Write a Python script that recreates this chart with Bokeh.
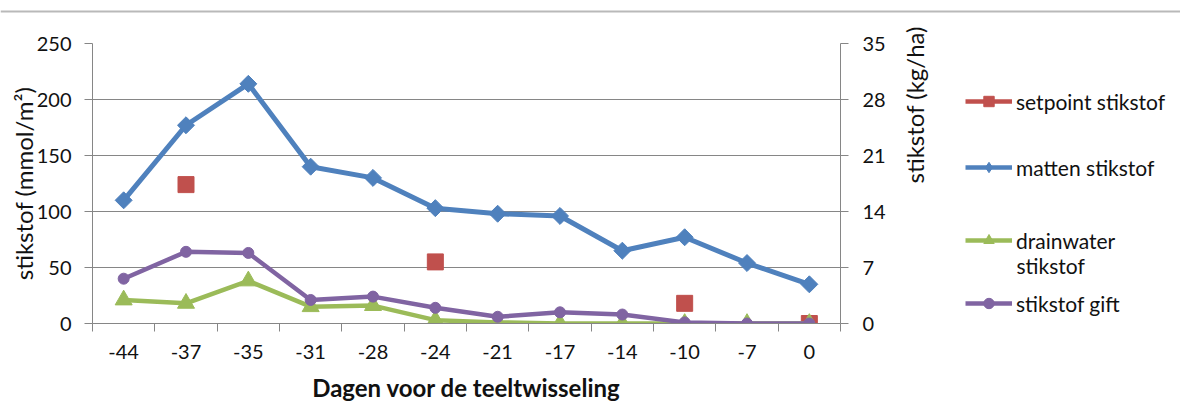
import numpy as np
from bokeh.plotting import figure
from bokeh.models import (Range1d, LinearAxis, FixedTicker, Legend, LegendItem, Label,
                          ColumnDataSource, Span)
from bokeh.layouts import column, row
from bokeh.embed import file_html
from bokeh.resources import INLINE

nan = float("nan")

# ---- data ----
days = ["-44", "-37", "-35", "-31", "-28", "-24", "-21", "-17", "-14", "-10", "-7", "0"]
setpoint_stikstof = [nan, 124, nan, nan, nan, 55, nan, nan, nan, 18, nan, 0]
matten_stikstof = [110, 177, 214, 140, 130, 103, 98, 96, 65, 77, 54, 35]
drainwater_stikstof = [21, 18, 38, 15, 16, 3, 1, 0, 0, 0, 0, 0]
stikstof_gift = [40, 64, 63, 21, 24, 14, 6, 10, 8, 1, 0, 0]
left_ticks = [0, 50, 100, 150, 200, 250]
right_ticks = [0, 7, 14, 21, 28, 35]

FONT = "Lato"
GRAY = "#868686"
TXT = "#111111"
RED = "#C0504D"
BLUE = "#4F81BD"
GREEN = "#9BBB59"
PURPLE = "#8064A2"

xpos = [i + 0.5 for i in range(len(days))]

src = ColumnDataSource(dict(
    x=np.array(xpos, dtype=float),
    setpoint=np.array(setpoint_stikstof, dtype=float),
    matten=np.array(matten_stikstof, dtype=float),
    drain=np.array(drainwater_stikstof, dtype=float),
    gift=np.array(stikstof_gift, dtype=float),
))

H = 390  # height of the chart row

# ---- thin rule across the top ----
p_top = figure(width=1180, height=16, output_backend="svg", toolbar_location=None,
               x_range=Range1d(0, 1), y_range=Range1d(0, 16),
               min_border_left=0, min_border_right=0, min_border_top=0, min_border_bottom=0)
p_top.axis.visible = False
p_top.grid.visible = False
p_top.outline_line_color = None
p_top.add_layout(Span(location=5, dimension="width", line_color="#b9b9b9", line_width=2))

# ---- main chart ----
p = figure(width=950, height=H, output_backend="svg", toolbar_location=None,
           x_range=Range1d(0, len(days)), y_range=Range1d(0, 250),
           min_border_left=92, min_border_right=110, min_border_top=27,
           min_border_bottom=83)
p.outline_line_color = None
p.background_fill_color = "white"
p.border_fill_color = "white"

# x axis: labels at category centres, tick marks at category boundaries
xa = p.xaxis[0]
xa.ticker = FixedTicker(ticks=xpos, minor_ticks=list(range(len(days) + 1)))
xa.major_label_overrides = {x: d for x, d in zip(xpos, days)}
xa.major_tick_out = 0
xa.major_tick_in = 0
xa.minor_tick_out = 8
xa.minor_tick_in = 0
xa.minor_tick_line_color = GRAY
xa.axis_line_color = GRAY
xa.major_label_text_font = FONT
xa.major_label_text_font_size = "20px"
xa.major_label_text_color = TXT
xa.major_label_standoff = 13
xa.axis_label = "Dagen voor de teeltwisseling"
xa.axis_label_text_font = FONT
xa.axis_label_text_font_size = "24px"
xa.axis_label_text_font_style = "bold"
xa.axis_label_text_color = TXT
xa.axis_label_standoff = 11
p.xgrid.visible = False

# left axis
ya = p.yaxis[0]
ya.ticker = FixedTicker(ticks=left_ticks)
ya.major_tick_out = 8
ya.major_tick_in = 0
ya.minor_tick_out = 0
ya.minor_tick_in = 0
ya.major_tick_line_color = GRAY
ya.axis_line_color = GRAY
ya.major_label_text_font = FONT
ya.major_label_text_font_size = "20px"
ya.major_label_text_color = TXT
ya.major_label_standoff = 13
ya.axis_label = "stikstof (mmol/m²)"
ya.axis_label_text_font = FONT
ya.axis_label_text_font_size = "24px"
ya.axis_label_text_font_style = "normal"
ya.axis_label_text_color = TXT
ya.axis_label_standoff = -4
p.ygrid.ticker = FixedTicker(ticks=left_ticks)
p.ygrid.grid_line_color = GRAY

# right axis
p.extra_y_ranges = {"kg": Range1d(0, 35)}
ra = LinearAxis(y_range_name="kg", ticker=FixedTicker(ticks=right_ticks),
                axis_label="stikstof (kg/ha)")
ra.major_tick_out = 8
ra.major_tick_in = 0
ra.minor_tick_out = 0
ra.minor_tick_in = 0
ra.major_tick_line_color = GRAY
ra.axis_line_color = GRAY
ra.major_label_text_font = FONT
ra.major_label_text_font_size = "20px"
ra.major_label_text_color = TXT
ra.major_label_standoff = 14
ra.axis_label_text_font = FONT
ra.axis_label_text_font_size = "24px"
ra.axis_label_text_font_style = "normal"
ra.axis_label_text_color = TXT
ra.axis_label_standoff = 26
ra.axis_label_orientation = np.pi / 2
p.add_layout(ra, "right")

# series
p.line("x", "setpoint", source=src, line_color=RED, line_width=4.5)
p.scatter("x", "setpoint", source=src, marker="square", size=16,
          fill_color=RED, line_color=RED)
p.line("x", "matten", source=src, line_color=BLUE, line_width=5, line_join="round")
p.scatter("x", "matten", source=src, marker="square", angle=np.pi / 4, size=12,
          fill_color=BLUE, line_color=BLUE)
p.line("x", "drain", source=src, line_color=GREEN, line_width=4.5, line_join="round")
p.scatter("x", "drain", source=src, marker="triangle", size=17,
          fill_color=GREEN, line_color=GREEN)
p.line("x", "gift", source=src, line_color=PURPLE, line_width=4.5, line_join="round")
p.scatter("x", "gift", source=src, marker="circle", size=11,
          fill_color=PURPLE, line_color=PURPLE)

# ---- legend panel (its frame lines up with the chart frame in the row) ----
pl = figure(width=230, height=H, output_backend="svg", toolbar_location=None,
            x_range=Range1d(0, 230), y_range=Range1d(0, 280),
            min_border_left=0, min_border_right=0, min_border_top=0, min_border_bottom=0)
pl.axis.visible = False
pl.grid.visible = False
pl.outline_line_color = None


def legend_renderers(color, marker):
    ln = pl.line(x=[-1000, -999], y=[-1000, -1000], line_color=color, line_width=4.5)
    mk = pl.scatter(x=[-1000], y=[-1000], marker=marker, size=10,
                    fill_color=color, line_color=color)
    return [ln, mk]


def add_legend(label, renderers, vy):
    lg = Legend(items=[LegendItem(label=label, renderers=renderers)], location=(15, vy),
                padding=0, margin=0, spacing=0, border_line_color=None,
                background_fill_alpha=0, glyph_width=47, glyph_height=26,
                label_standoff=4, label_height=26, label_text_font=FONT,
                label_text_font_size="21px", label_text_color=TXT)
    pl.add_layout(lg)


add_legend("setpoint stikstof", legend_renderers(RED, "square"), 209)
add_legend("matten stikstof", legend_renderers(BLUE, "diamond"), 143)
add_legend("drainwater", legend_renderers(GREEN, "triangle"), 70)
add_legend("stikstof gift", legend_renderers(PURPLE, "circle"), 7)
pl.add_layout(Label(x=66, y=58, x_units="screen", y_units="screen", text="stikstof",
                    text_font=FONT, text_font_size="21px", text_color=TXT,
                    text_baseline="middle", text_align="left"))

layout = column(p_top, row(p, pl))
open("out.html", "w").write(file_html(layout, INLINE))
